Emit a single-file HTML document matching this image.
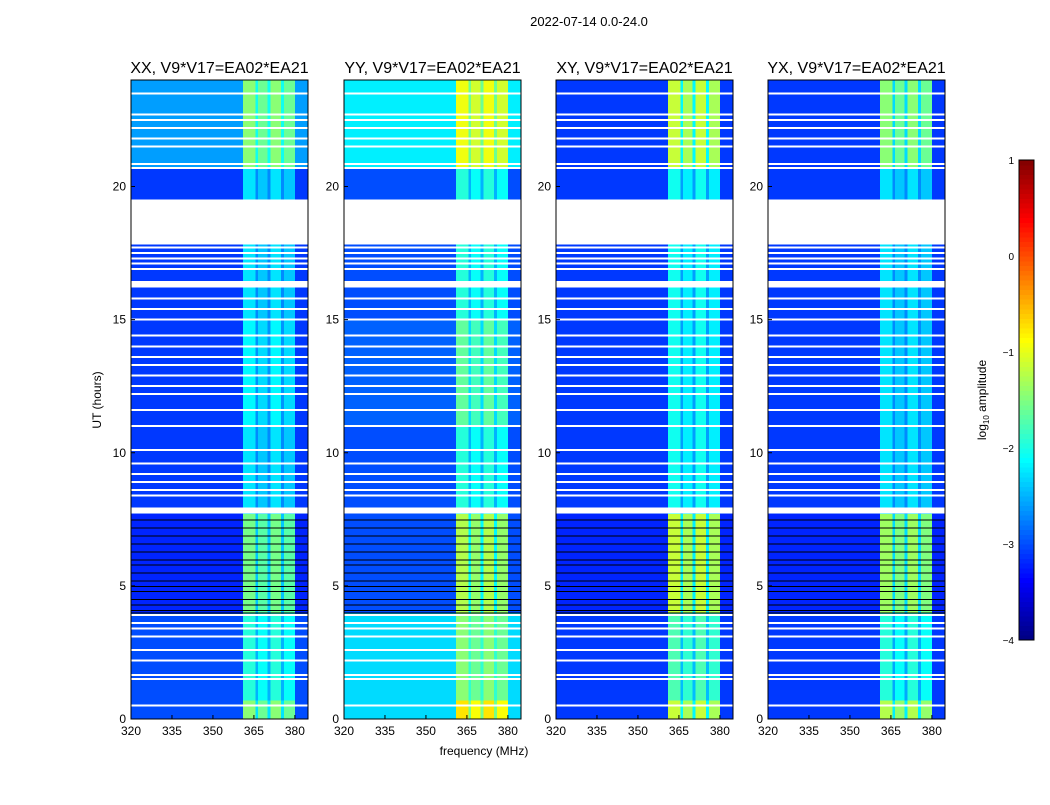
<!DOCTYPE html>
<html><head><meta charset="utf-8"><style>
body{margin:0;background:#fff;}
svg text{font-family:"Liberation Sans",sans-serif;}
</style></head><body>
<svg id="chart" width="1050" height="800" xmlns="http://www.w3.org/2000/svg">
<rect width="1050" height="800" fill="#fff"/>
<text x="589" y="26" font-size="13" text-anchor="middle">2022-07-14 0.0-24.0</text>
<text x="484" y="755" font-size="12" text-anchor="middle">frequency (MHz)</text>
<text transform="translate(101,400) rotate(-90)" font-size="12" text-anchor="middle">UT (hours)</text>
<g id="panels"></g>
<g id="cbar"></g>
</svg>
<script>
const panelNames=["XX, V9*V17=EA02*EA21","YY, V9*V17=EA02*EA21","XY, V9*V17=EA02*EA21","YX, V9*V17=EA02*EA21"];
const panelLeft=[131,344,556,768];
const xTicks=[320,335,350,365,380];
const yTicks=[0,5,10,15,20];
const segStart=[0,0.7,4,7.7,11,15,17.8,19.5,20.7];
const segEnd=[0.7,4,7.7,11,15,17.8,19.5,20.7,24];
const baseXX=[-3.0,-3.0,-3.2,-3.1,-3.1,-3.1,-3.1,-3.1,-2.6];
const bandXX=[-1.5,-2.0,-1.6,-2.3,-2.2,-2.3,-2.3,-2.3,-1.5];
const baseYY=[-2.3,-2.3,-3.0,-3.0,-2.9,-3.0,-3.0,-3.0,-2.2];
const bandYY=[-0.8,-1.5,-1.3,-2.0,-1.7,-2.0,-2.0,-2.0,-1.0];
const baseXY=[-3.1,-3.1,-3.2,-3.1,-3.1,-3.1,-3.1,-3.1,-3.1];
const bandXY=[-1.2,-1.8,-1.2,-2.1,-2.1,-2.1,-2.1,-2.1,-1.2];
const baseYX=[-3.1,-3.1,-3.2,-3.1,-3.1,-3.1,-3.1,-3.1,-3.1];
const bandYX=[-1.3,-2.0,-1.4,-2.3,-2.3,-2.3,-2.3,-2.3,-1.5];
const bandStart=[361,366.5,371,376];
const bandEnd=[365.5,370,375,380];
const flagStart=[17.83,7.72,16.2];
const flagEnd=[19.51,7.95,16.45];
const whiteLines=[0.5,1.5,1.65,2.2,2.6,3.1,3.4,3.6,3.9,8.4,8.6,8.9,9.2,9.6,10.1,11.0,11.6,12.2,12.5,12.9,13.3,13.6,14.0,14.4,15.0,15.4,15.8,16.9,17.1,17.3,17.5,17.7,20.7,20.85,21.5,21.8,22.2,22.5,22.7,23.5];
const blackLines=[4.0,4.1,4.3,4.5,4.8,5.0,5.2,5.5,5.8,6.0,6.3,6.6,6.9,7.2,7.5];
const cbTicks=[1,0,-1,-2,-3,-4];
const baseAll=[baseXX,baseYY,baseXY,baseYX];
const bandAll=[bandXX,bandYY,bandXY,bandYX];

const NS="http://www.w3.org/2000/svg";
const PW=177,PT=80,PB=719,FMIN=320,FMAX=384.8,TMAX=24;
function xSc(f,left){return left+(f-FMIN)/(FMAX-FMIN)*PW;}
function ySc(t){return PB-(t/TMAX)*(PB-PT);}
function cSc(v){return 640-(v+4)/5*480;}
function jet(v){let t=(v+4)/5;t=Math.max(0,Math.min(1,t));
 const r=Math.max(0,Math.min(1,1.5-Math.abs(4*t-3))),g=Math.max(0,Math.min(1,1.5-Math.abs(4*t-2))),b=Math.max(0,Math.min(1,1.5-Math.abs(4*t-1)));
 return `rgb(${Math.round(r*255)},${Math.round(g*255)},${Math.round(b*255)})`;}
function mk(tag,attrs,parent){const e=document.createElementNS(NS,tag);for(const k in attrs)e.setAttribute(k,attrs[k]);parent.appendChild(e);return e;}
const panels=document.getElementById('panels');
for(let p=0;p<4;p++){
 const L=panelLeft[p];
 const g=mk('g',{},panels);
 
 
 const hm=mk('g',{'shape-rendering':'crispEdges'},g);
 
 
 for(let s=0;s<segStart.length;s++){
  const y0=ySc(segEnd[s]),y1=ySc(segStart[s]);
  const r=mk('rect',{x:L,y:y0,width:PW,height:y1-y0,fill:jet(baseAll[p][s])},hm);
  
  
  const x0=xSc(bandStart[0],L),x1=xSc(bandEnd[bandEnd.length-1],L);
  const gap=mk('rect',{x:x0,y:y0,width:x1-x0,height:y1-y0,fill:jet((baseAll[p][s]+bandAll[p][s])/2)},hm);
  
  
  for(let b=0;b<bandStart.length;b++){
   const bx0=xSc(bandStart[b],L),bx1=xSc(bandEnd[b],L);
   const c=mk('rect',{x:bx0,y:y0,width:bx1-bx0,height:y1-y0,fill:jet(bandAll[p][s]+(b%2?-0.1:0.05))},hm);
   
   
  }
 }
 for(let i=0;i<flagStart.length;i++){
  const y0=ySc(flagEnd[i]),y1=ySc(flagStart[i]);
  const f=mk('rect',{x:L,y:y0,width:PW,height:y1-y0,fill:'#fff'},hm);
  
  
 }
 whiteLines.forEach(t=>{const l=mk('rect',{x:L,y:ySc(t)-1,width:PW,height:2,fill:'#fff'},hm);
  
  });
 blackLines.forEach(t=>{const l=mk('rect',{x:L,y:ySc(t),width:PW,height:1,fill:'#000'},hm);
  
  });
 mk('rect',{x:L,y:PT,width:PW,height:PB-PT,fill:'none',stroke:'#000','stroke-width':1},g);
 const tt=mk('text',{x:L+PW/2,y:73,'font-size':16,'text-anchor':'middle'},g);
 tt.textContent=panelNames[p];
 
 
 xTicks.forEach(v=>{const x=xSc(v,L);
  mk('line',{x1:x,x2:x,y1:PB,y2:PB-4,stroke:'#000'},g);
  const t=mk('text',{x:x,y:PB+16,'font-size':12,'text-anchor':'middle'},g);t.textContent=v;
  
  });
 yTicks.forEach(v=>{const y=ySc(v);
  mk('line',{x1:L,x2:L+4,y1:y,y2:y,stroke:'#000'},g);
  const t=mk('text',{x:L-5,y:y+4,'font-size':12,'text-anchor':'end'},g);t.textContent=v;
  
  });
}
const cb=document.getElementById('cbar');


for(let i=0;i<100;i++){const v=-4+5*i/100;
 mk('rect',{x:1019,y:cSc(v+0.05),width:15,height:480/100+0.5,fill:jet(v+0.025),'shape-rendering':'crispEdges'},cb);}
mk('rect',{x:1019,y:160,width:15,height:480,fill:'none',stroke:'#000'},cb);
cbTicks.forEach(v=>{const y=cSc(v);
 const t=mk('text',{x:1014,y:y+4,'font-size':10,'text-anchor':'end'},cb);t.textContent=v<0?'\u2212'+(-v):v;
 
 });
const cl=mk('text',{transform:'translate(986,400) rotate(-90)','font-size':12,'text-anchor':'middle'},cb);
cl.innerHTML='log<tspan font-size="8" dy="3">10</tspan><tspan dy="-3"> amplitude</tspan>';


</script>
</body></html>
